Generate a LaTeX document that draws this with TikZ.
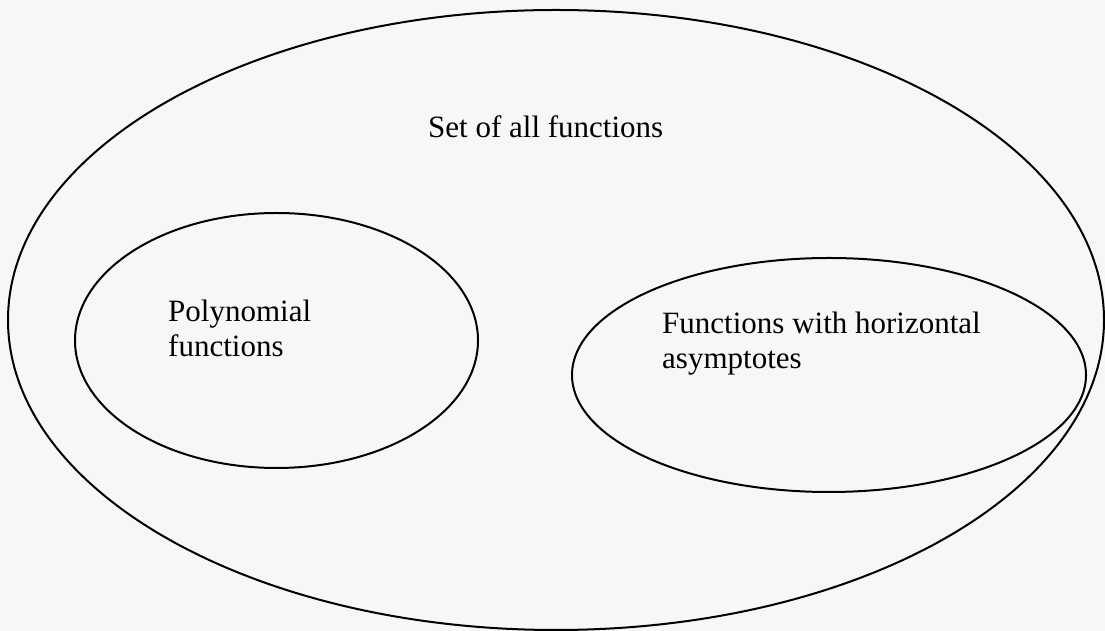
\documentclass[tikz,border=0pt]{standalone}
\usepackage{fontspec}
\setmainfont{Liberation Serif}
\usetikzlibrary{shapes.geometric}
\definecolor{paper}{RGB}{246,248,247}
\begin{document}
\begin{tikzpicture}[x=1pt,y=1pt,
  setshape/.style={ellipse, draw=black, line width=2pt, inner sep=0pt},
  lbl/.style={font=\fontsize{31}{35.5}\selectfont, inner sep=0pt, align=left, anchor=base west}]
\fill[paper] (0,0) rectangle (1105,631);
\useasboundingbox (0,0) rectangle (1105,631);
\node[setshape, minimum width=1096pt, minimum height=620pt] (all) at (556,311) {};
\node[setshape, minimum width=403pt, minimum height=255pt] (poly) at (276.5,290.5) {};
\node[setshape, minimum width=514pt, minimum height=234pt] (asym) at (829,256) {};
\node[lbl] (tall) at (428,493) {Set of all functions};
\node[lbl] (tpoly) at (168,274) {Polynomial\\functions};
\node[lbl] (tasym) at (662,262) {Functions with horizontal\\asymptotes};
\end{tikzpicture}
\end{document}
